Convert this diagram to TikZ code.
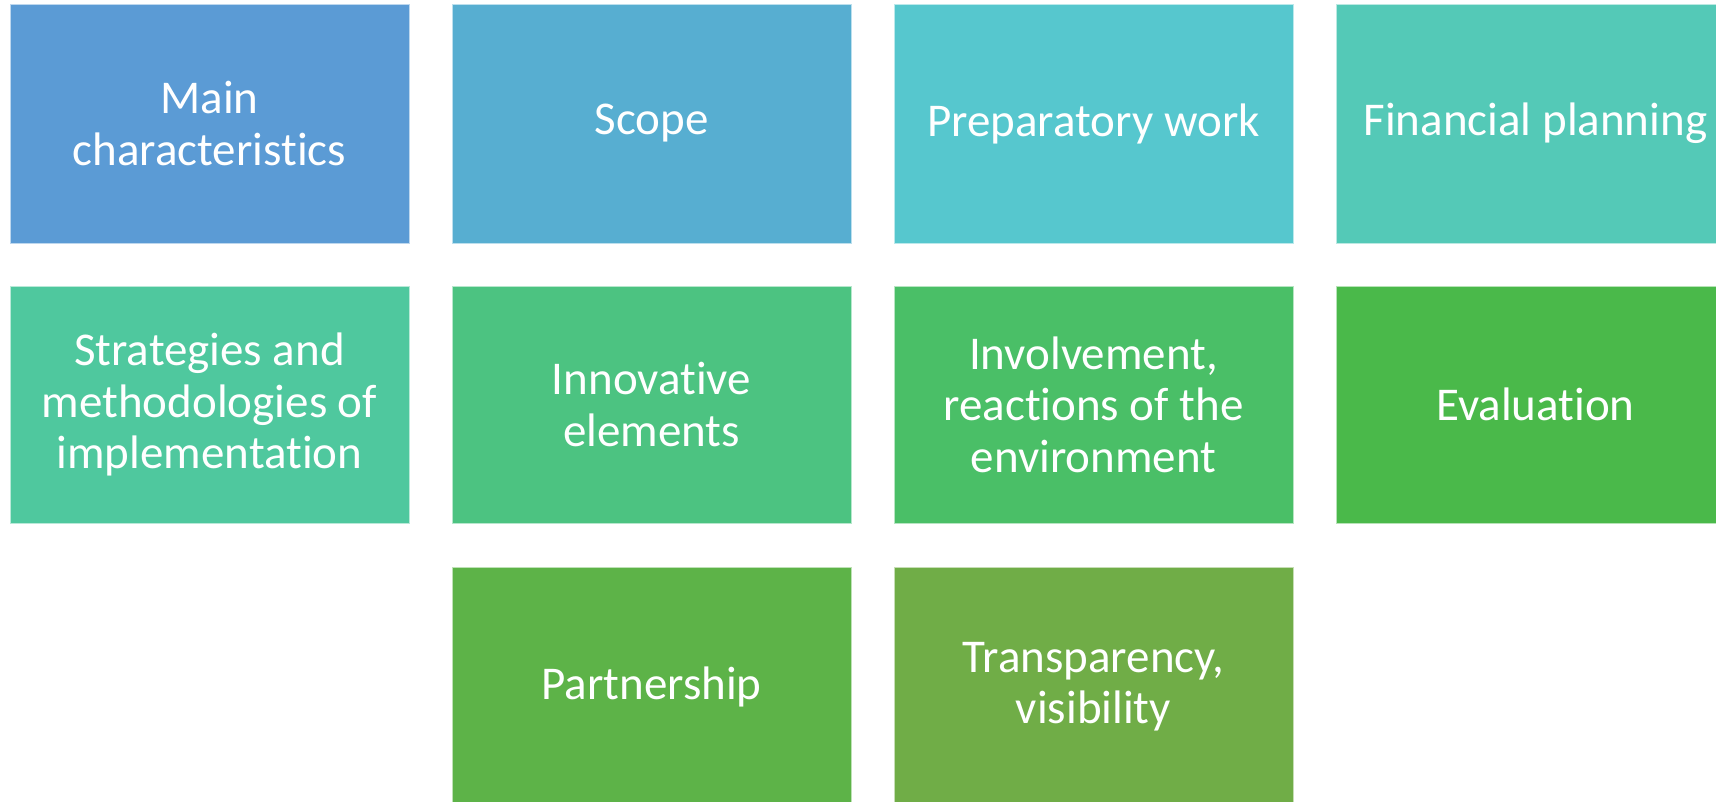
\documentclass[tikz,border=0pt]{standalone}
\usepackage{fontspec}
\setmainfont[Ligatures=NoCommon]{Carlito}
\definecolor{cA}{RGB}{91,155,213}
\definecolor{cB}{RGB}{87,174,209}
\definecolor{cC}{RGB}{86,199,206}
\definecolor{cD}{RGB}{84,201,183}
\definecolor{cE}{RGB}{79,200,158}
\definecolor{cF}{RGB}{76,195,129}
\definecolor{cG}{RGB}{74,191,103}
\definecolor{cH}{RGB}{74,185,74}
\definecolor{cI}{RGB}{93,179,72}
\definecolor{cJ}{RGB}{112,173,71}
\tikzset{
  tile/.style={rectangle, inner sep=0pt, minimum width=399pt, minimum height=239pt,
    text=white, align=center,
    font=\fontsize{47}{51.5}\selectfont, draw=white!60!#1, line width=0.8pt, fill=#1},
}
\begin{document}
\begin{tikzpicture}[x=1pt,y=-1pt]
\useasboundingbox (0,0) rectangle (1716,801);
\clip (0,0) rectangle (1716,801);
\fill[white] (0,0) rectangle (1716,801);
\node[tile=cA] (n1) at (209.5,123.5) {Main\\characteristics};
\node[tile=cB] (n2) at (651.5,123.5) {Scope};
\node[tile=cC] (n3) at (1093.5,123.5) {Preparatory work};
\node[tile=cD] (n4) at (1535.5,123.5) {Financial planning};
\node[tile=cE, minimum height=237pt] (n5) at (209.5,404.5) {Strategies and\\methodologies of\\implementation};
\node[tile=cF, minimum height=237pt] (n6) at (651.5,404.5) {Innovative\\elements};
\node[tile=cG, minimum height=237pt] (n7) at (1093.5,404.5) {Involvement,\\reactions of the\\environment};
\node[tile=cH, minimum height=237pt] (n8) at (1535.5,404.5) {Evaluation};
\node[tile=cI] (n9) at (651.5,686.5) {Partnership};
\node[tile=cJ] (n10) at (1093.5,686.5) {Transparency,\\visibility};
\end{tikzpicture}
\end{document}
